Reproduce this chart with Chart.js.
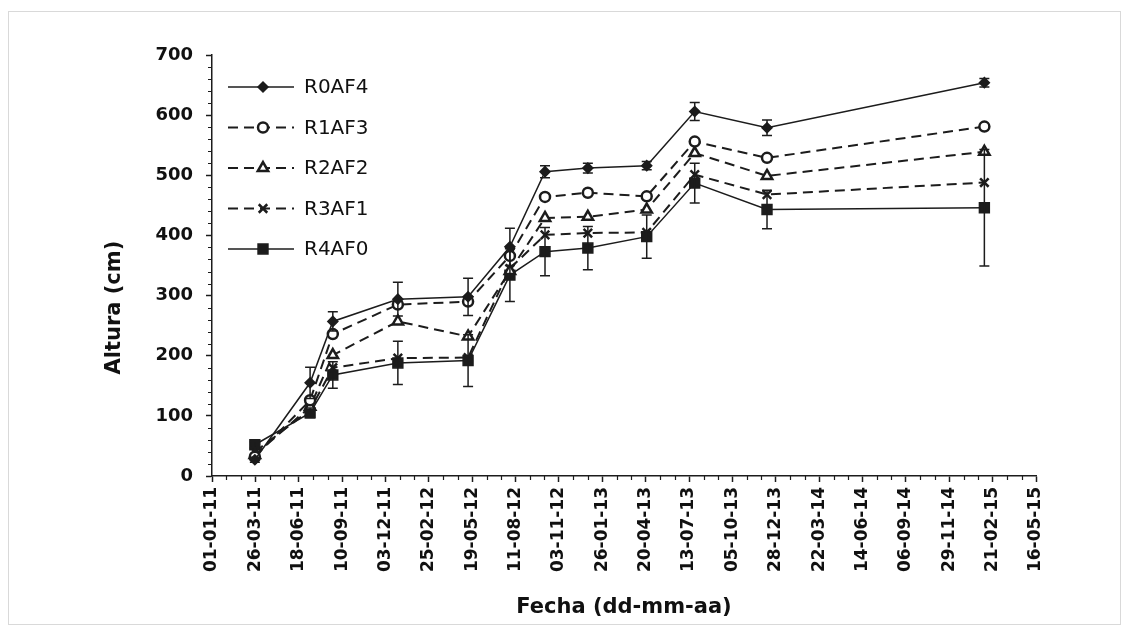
<!DOCTYPE html>
<html lang="es">
<head>
<meta charset="utf-8">
<title>Altura por fecha</title>
<script src="https://cdn.jsdelivr.net/npm/chart.js@4.4.1/dist/chart.umd.min.js"></script>
<style>
  html, body { margin: 0; padding: 0; background: #fff; }
  #grafico { display: block; }
</style>
</head>
<body>
<canvas id="grafico" width="1129" height="636"></canvas>
<script>
/** Fechas de medición (aaaa-mm-dd) */
const fechas = ['2011-03-25', '2011-07-10', '2011-08-23', '2011-12-27', '2012-05-11', '2012-07-31',
  '2012-10-07', '2012-12-29', '2013-04-22', '2013-07-24', '2013-12-11', '2015-02-05'];

/** Altura (cm) por tratamiento */
const R0AF4 = [27, 155, 257, 294, 298, 381, 506, 512, 516, 606, 579, 654];
const R1AF3 = [32, 126, 236, 285, 290, 366, 464, 471, 465, 556, 529, 581];
const R2AF2 = [35, 115, 201, 257, 232, 341, 429, 431, 443, 537, 499, 539];
const R3AF1 = [40, 110, 180, 196, 197, 345, 401, 404, 405, 501, 468, 488];
const R4AF0 = [52, 105, 168, 188, 192, 334, 373, 379, 398, 487, 443, 446];

/** Barras de error (+/-) */
const errR0AF4 = [4, 26, 16, 28, 31, 31, 10, 8, 7, 15, 13, 7];
const errR4AF0 = [5, 8, 22, 36, 43, 44, 40, 36, 36, 33, 32, 97];

/** Eje x : días desde el 01-01-11, marca cada 84 días */
const fechaInicio = '2011-01-01';
const pasoDias = 84;
const nbPasos = 19;

const DIA = 86400000;
const base = Date.parse(fechaInicio + 'T00:00:00Z');
const aDia = f => Math.round((Date.parse(f + 'T00:00:00Z') - base) / DIA);
const dosCifras = n => String(n).padStart(2, '0');
const formatoFecha = function(v) {
  const d = new Date(base + v * DIA);
  return `${dosCifras(d.getUTCDate())}-${dosCifras(d.getUTCMonth() + 1)}-${dosCifras(d.getUTCFullYear() % 100)}`;
};

const negro = '#1c1c1c';
const fuente = 'DejaVu Sans';

const puntos = valores => fechas.map((f, i) => ({ x: aDia(f), y: valores[i] }));

const serie = function(label, valores, estilo) {
  return Object.assign({
    label,
    data: puntos(valores),
    borderColor: negro,
    pointBorderColor: negro,
    borderWidth: 1.5,
    pointBorderWidth: 1.5,
    tension: 0,
  }, estilo);
};

const datasets = [
  serie('R0AF4', R0AF4, { pointStyle: 'rectRot', pointRadius: 5, pointBackgroundColor: negro }),
  serie('R1AF3', R1AF3, { borderDash: [10, 6], borderWidth: 2, pointStyle: 'circle', pointRadius: 5, pointBorderWidth: 2.5, pointBackgroundColor: '#fff' }),
  serie('R2AF2', R2AF2, { borderDash: [10, 6], borderWidth: 2, pointStyle: 'triangle', pointRadius: 6, pointBorderWidth: 2.5, pointBackgroundColor: '#fff' }),
  serie('R3AF1', R3AF1, { borderDash: [10, 6], borderWidth: 2, pointStyle: 'crossRot', pointRadius: 6, pointBorderWidth: 2.5, pointBackgroundColor: negro }),
  serie('R4AF0', R4AF0, { pointStyle: 'rect', pointRadius: 7, pointBackgroundColor: negro }),
];

const errores = { R0AF4: errR0AF4, R4AF0: errR4AF0 };

/* Fondo y marco del gráfico */
const pluginFondo = {
  id: 'fondo',
  beforeDraw(chart) {
    const c = chart.ctx;
    c.save();
    c.fillStyle = '#fff';
    c.fillRect(0, 0, chart.width, chart.height);
    c.strokeStyle = '#d9d9d9';
    c.lineWidth = 1;
    c.strokeRect(8.5, 11.5, chart.width - 17, chart.height - 23);
    c.restore();
  }
};

/* Marcas secundarias de los ejes */
const pluginMarcas = {
  id: 'marcas',
  afterDraw(chart) {
    const c = chart.ctx;
    const sx = chart.scales.x;
    const sy = chart.scales.y;
    c.save();
    c.strokeStyle = negro;
    c.lineWidth = 1.2;
    c.beginPath();
    for (let d = 0; d <= sx.max; d += pasoDias / 3) {
      if (d % pasoDias === 0) continue;
      const px = Math.round(sx.getPixelForValue(d)) + 0.5;
      c.moveTo(px, sy.bottom);
      c.lineTo(px, sy.bottom + 4);
    }
    for (let v = 0; v <= sy.max; v += 20) {
      if (v % 100 === 0) continue;
      const py = Math.round(sy.getPixelForValue(v)) + 0.5;
      c.moveTo(sx.left, py);
      c.lineTo(sx.left - 4, py);
    }
    c.stroke();
    c.restore();
  }
};

/* Barras de error */
const pluginErrores = {
  id: 'errores',
  afterDatasetsDraw(chart) {
    const c = chart.ctx;
    const sx = chart.scales.x;
    const sy = chart.scales.y;
    c.save();
    c.strokeStyle = negro;
    c.lineWidth = 1.5;
    chart.data.datasets.forEach(ds => {
      const err = errores[ds.label];
      if (!err) return;
      ds.data.forEach((p, i) => {
        const px = sx.getPixelForValue(p.x);
        const yArriba = sy.getPixelForValue(p.y + err[i]);
        const yAbajo = sy.getPixelForValue(p.y - err[i]);
        c.beginPath();
        c.moveTo(px, yArriba); c.lineTo(px, yAbajo);
        c.moveTo(px - 5, yArriba); c.lineTo(px + 5, yArriba);
        c.moveTo(px - 5, yAbajo); c.lineTo(px + 5, yAbajo);
        c.stroke();
      });
    });
    c.restore();
  }
};

/* Leyenda dentro del área y título del eje y */
const pluginLeyenda = {
  id: 'leyenda',
  afterDraw(chart) {
    const c = chart.ctx;
    const area = chart.chartArea;
    const x0 = area.left + 16;
    c.save();
    chart.data.datasets.forEach((ds, i) => {
      const y = area.top + 32 + i * 40.5;
      c.strokeStyle = negro;
      c.lineWidth = ds.borderWidth;
      c.setLineDash(ds.borderDash || []);
      c.beginPath();
      c.moveTo(x0, y);
      c.lineTo(x0 + 66, y);
      c.stroke();
      c.setLineDash([]);
      c.fillStyle = ds.pointBackgroundColor;
      c.strokeStyle = negro;
      c.lineWidth = ds.pointBorderWidth;
      Chart.helpers.drawPoint(c, {
        pointStyle: ds.pointStyle, radius: ds.pointRadius, rotation: 0, borderWidth: ds.pointBorderWidth
      }, x0 + 35, y);
      c.fillStyle = '#111';
      c.font = `20px "${fuente}"`;
      c.textBaseline = 'middle';
      c.textAlign = 'left';
      c.fillText(ds.label, x0 + 76, y + 1);
    });

    c.translate(115, area.top + (area.bottom - area.top) * 0.6);
    c.rotate(-Math.PI / 2);
    c.font = `bold 21px "${fuente}"`;
    c.textAlign = 'center';
    c.textBaseline = 'middle';
    c.fillStyle = '#111';
    c.fillText('Altura (cm)', 0, 0);
    c.restore();
  }
};

const ctx = document.getElementById('grafico').getContext('2d');
new Chart(ctx, {
  type: 'line',
  data: { datasets },
  plugins: [pluginFondo, pluginErrores, pluginMarcas, pluginLeyenda],
  options: {
    responsive: false,
    animation: false,
    events: [],
    layout: { padding: { left: 96, right: 93, top: 55, bottom: 14 } },
    plugins: {
      legend: { display: false },
      tooltip: { enabled: false },
    },
    scales: {
      x: {
        type: 'linear',
        min: 0,
        max: pasoDias * nbPasos,
        afterFit: scale => { scale.height = 146; },
        border: { color: negro, width: 1.5 },
        grid: { drawOnChartArea: false, tickLength: 6, tickColor: negro, tickWidth: 1.5 },
        ticks: {
          stepSize: pasoDias,
          autoSkip: false,
          maxRotation: 90,
          minRotation: 90,
          padding: 5,
          color: '#111',
          font: { family: fuente, weight: 'bold', size: 17 },
          callback: v => formatoFecha(v),
        },
        title: {
          display: true,
          text: 'Fecha (dd-mm-aa)',
          color: '#111',
          padding: { top: 0, bottom: 2 },
          font: { family: fuente, weight: 'bold', size: 21 },
        },
      },
      y: {
        min: 0,
        max: 700,
        afterFit: scale => { scale.width = 116; },
        border: { color: negro, width: 1.5 },
        grid: { drawOnChartArea: false, tickLength: 6, tickColor: negro, tickWidth: 1.5 },
        ticks: {
          stepSize: 100,
          padding: 13,
          color: '#111',
          font: { family: fuente, weight: 'bold', size: 18 },
        },
      },
    },
  },
});
</script>
</body>
</html>
